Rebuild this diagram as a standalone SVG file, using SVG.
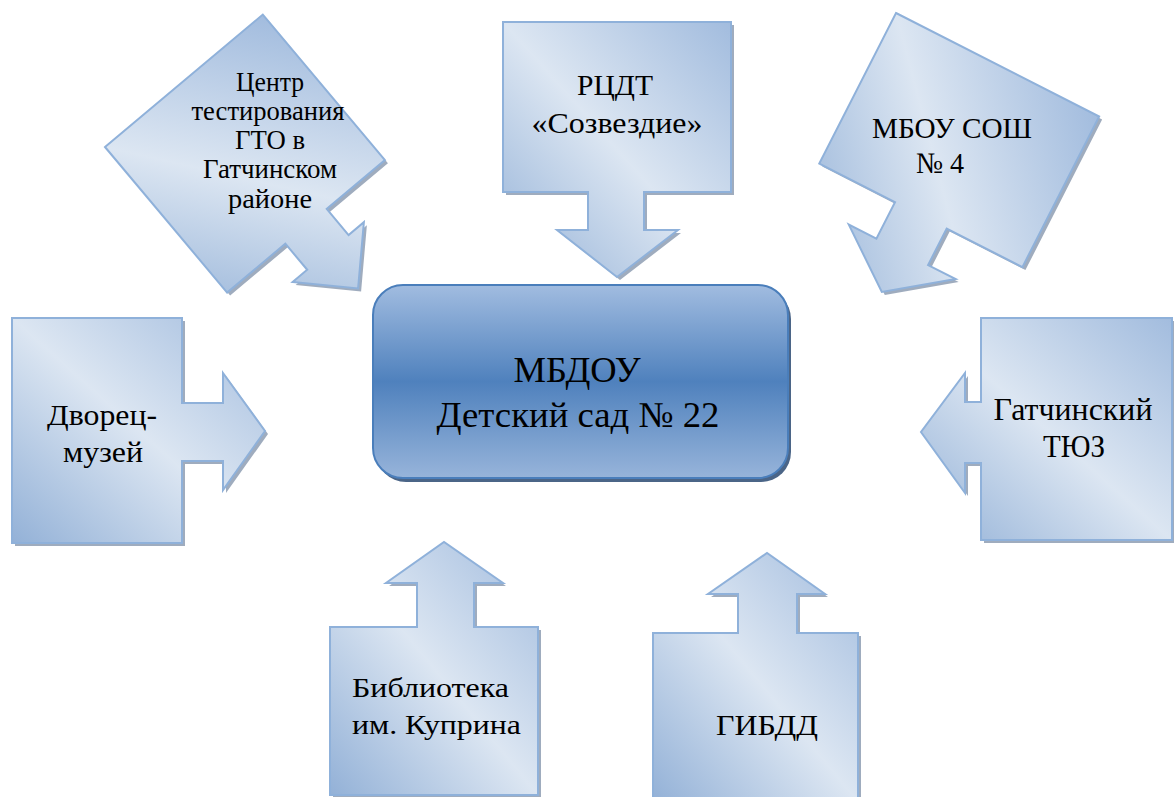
<svg xmlns="http://www.w3.org/2000/svg" width="1174" height="797" viewBox="0 0 1174 797">
<style>
.sh{fill:#7f90a8;opacity:.75}
.nd{fill:url(#g);stroke:#8fb1da;stroke-width:2;stroke-linejoin:miter}
</style>
<defs>
<linearGradient id="g" x1="0" y1="1" x2="1" y2="0">
<stop offset="0" stop-color="#93b1d7"/>
<stop offset="0.5" stop-color="#dce6f2"/>
<stop offset="1" stop-color="#a2bcde"/>
</linearGradient>
<linearGradient id="gc" x1="0" y1="0" x2="0" y2="1">
<stop offset="0" stop-color="#a1bce0"/>
<stop offset="0.5" stop-color="#4f81bd"/>
<stop offset="1" stop-color="#97b4da"/>
</linearGradient>
<path id="pTL" d="M0,0 H206 V190 H130 V224 H150 L103,271 L57,224 H76 V190 H0 Z"/>
<path id="pTC" d="M503,22 H731 V192 H644 V230 H678 L617,277 L557,230 H588 V192 H503 Z"/>
<path id="pTR" d="M0,0 H228 V169 H143 V210 H174 L114,255 L54,210 H85 V169 H0 Z"/>
<path id="pL" d="M12,318 H182 V403 H223 V373 L265,431 L223,490 V461 H182 V543 H12 Z"/>
<path id="pR" d="M981,318 H1172 V540 H981 V463 H965 V493 L921,432 L965,373 V402 H981 Z"/>
<path id="pBL" d="M330,627 H417 V583 H386 L444,542 L503,583 H474 V627 H538 V795 H330 Z"/>
<path id="pBR" d="M653,633 H738 V594 H708 L767,553 L825,594 H797 V633 H858 V802 H653 Z"/>
</defs>

<g id="connectors"></g>

<g id="node-gto">
<use href="#pTL" class="sh" transform="translate(108,150) rotate(-40)"/>
<use href="#pTL" class="nd" transform="translate(105,147) rotate(-40)"/>
<g font-family="Liberation Serif" font-size="28" text-anchor="middle" fill="#000">
<text x="270" y="91" textLength="68" lengthAdjust="spacingAndGlyphs">Центр</text>
<text x="268" y="120" textLength="153" lengthAdjust="spacingAndGlyphs">тестирования</text>
<text x="270" y="149" textLength="70" lengthAdjust="spacingAndGlyphs">ГТО в</text>
<text x="270" y="178" textLength="134" lengthAdjust="spacingAndGlyphs">Гатчинском</text>
<text x="270" y="208" textLength="84" lengthAdjust="spacingAndGlyphs">районе</text>
</g>
</g>

<g id="node-rcdt">
<use href="#pTC" class="sh" transform="translate(3,3)"/>
<use href="#pTC" class="nd"/>
<g font-family="Liberation Serif" font-size="30" text-anchor="middle" fill="#000">
<text x="615" y="95" textLength="76" lengthAdjust="spacingAndGlyphs">РЦДТ</text>
<text x="617" y="133" textLength="171" lengthAdjust="spacingAndGlyphs">«Созвездие»</text>
</g>
</g>

<g id="node-mbou">
<use href="#pTR" class="sh" transform="translate(899,16) rotate(27)"/>
<use href="#pTR" class="nd" transform="translate(896,13) rotate(27)"/>
<g font-family="Liberation Serif" font-size="30" fill="#000">
<text x="872" y="138" textLength="160" lengthAdjust="spacingAndGlyphs">МБОУ СОШ</text>
<text x="916" y="173" textLength="48" lengthAdjust="spacingAndGlyphs">№ 4</text>
</g>
</g>

<g id="node-dvorec">
<use href="#pL" class="sh" transform="translate(3,3)"/>
<use href="#pL" class="nd"/>
<g font-family="Liberation Serif" font-size="29" text-anchor="middle" fill="#000">
<text x="102" y="425" textLength="110" lengthAdjust="spacingAndGlyphs">Дворец-</text>
<text x="103" y="462" textLength="80" lengthAdjust="spacingAndGlyphs">музей</text>
</g>
</g>

<g id="node-tyuz">
<use href="#pR" class="sh" transform="translate(3,3)"/>
<use href="#pR" class="nd"/>
<g font-family="Liberation Serif" font-size="32" text-anchor="middle" fill="#000">
<text x="1073" y="420" textLength="159" lengthAdjust="spacingAndGlyphs">Гатчинский</text>
<text x="1074" y="457" textLength="62" lengthAdjust="spacingAndGlyphs">ТЮЗ</text>
</g>
</g>

<g id="node-biblioteka">
<use href="#pBL" class="sh" transform="translate(3,3)"/>
<use href="#pBL" class="nd"/>
<g font-family="Liberation Serif" font-size="27" fill="#000">
<text x="352" y="697" textLength="157" lengthAdjust="spacingAndGlyphs">Библиотека</text>
<text x="352" y="734" textLength="169" lengthAdjust="spacingAndGlyphs">им. Куприна</text>
</g>
</g>

<g id="node-gibdd">
<use href="#pBR" class="sh" transform="translate(3,3)"/>
<use href="#pBR" class="nd"/>
<text font-family="Liberation Serif" font-size="30" text-anchor="middle" fill="#000" x="767" y="735" textLength="102" lengthAdjust="spacingAndGlyphs">ГИБДД</text>
</g>

<g id="node-center">
<rect x="376" y="289" width="415" height="193" rx="30" fill="#2b4a72" opacity=".85"/>
<rect x="373" y="285" width="415" height="193" rx="30" fill="url(#gc)" stroke="#4a7ebb" stroke-width="2"/>
<g font-family="Liberation Serif" font-size="36" text-anchor="middle" fill="#000">
<text x="577" y="382" textLength="127" lengthAdjust="spacingAndGlyphs">МБДОУ</text>
<text x="578" y="427" textLength="283" lengthAdjust="spacingAndGlyphs">Детский сад № 22</text>
</g>
</g>
</svg>
